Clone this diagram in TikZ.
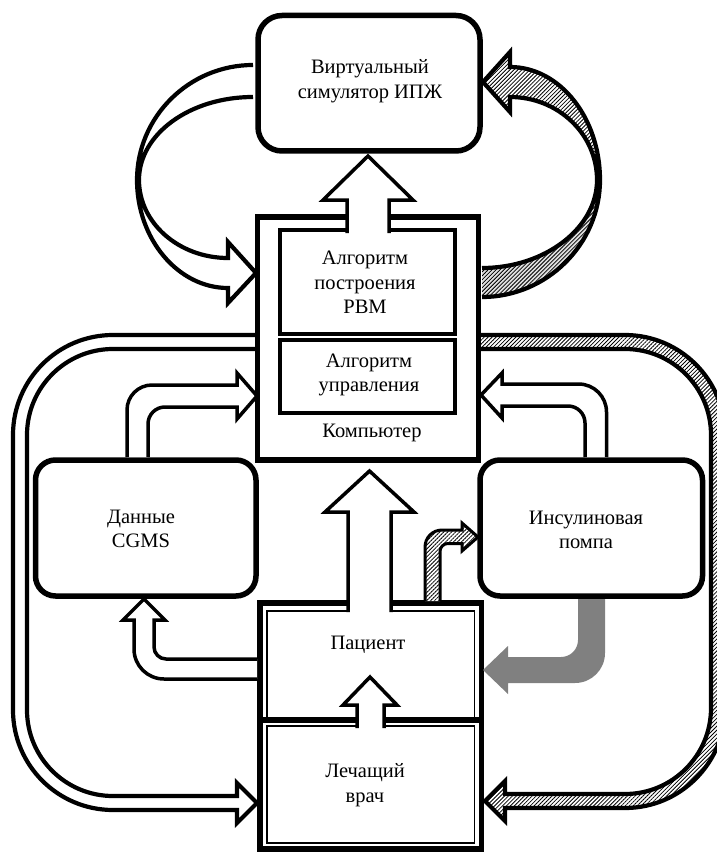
\documentclass[tikz,border=0pt]{standalone}
\usepackage{fontspec}
\setmainfont{Liberation Serif}
\usetikzlibrary{patterns,patterns.meta}
\begin{document}
\begin{tikzpicture}[x=1pt,y=-1pt]
\tikzset{
  box/.style={draw, line width=5.5pt, inner sep=0pt, fill=white},
  inbox/.style={draw, line width=4pt, inner sep=0pt},
  lbl/.style={font=\fontsize{20.5}{24.5}\selectfont, align=center, inner sep=0pt},
  arrowline/.style={line width=3.5pt, line join=miter},
  loopline/.style={line width=4.2pt},
  hatch/.style={pattern={Lines[angle=45,distance=2.8pt,line width=0.8pt]}, pattern color=black},
}
\useasboundingbox[fill=white] (0,0) rectangle (716,853);

% ---- big left loop (white ribbon) ----
\def\LeftLoopPath{(257,335) -- (113,335) .. controls (57.8,335) and (13,379.8) .. (13,435) -- (13,710) .. controls (13,765.2) and (57.8,810) .. (113,810) -- (237,810) -- (237,823) -- (257,803) -- (237,783) -- (237,796) -- (113,796) .. controls (65.5,796) and (27,757.5) .. (27,710) -- (27,435) .. controls (27,387.5) and (65.5,349) .. (113,349) -- (257,349)}
\fill[white] \LeftLoopPath -- cycle;
\draw[loopline, line join=miter] \LeftLoopPath;

% ---- big right loop (hatched ribbon) ----
\def\RightLoopPath{(479,335) -- (625,335) .. controls (680.2,335) and (725,379.8) .. (725,435) -- (725,708) .. controls (725,763.2) and (680.2,808) .. (625,808) -- (505,808) -- (505,821) -- (485,801) -- (505,781) -- (505,794) -- (625,794) .. controls (672.5,794) and (711,755.5) .. (711,708) -- (711,435) .. controls (711,387.5) and (672.5,349) .. (625,349) -- (479,349)}
\fill[hatch] \RightLoopPath -- cycle;
\draw[loopline, line join=miter] \RightLoopPath;

% ---- left twisted ribbon arrow (simulator -> computer) ----
\draw[loopline, line join=miter] (253,65) .. controls (189,65) and (137,117) .. (137,180) .. controls (137,239) and (178,288) .. (228,288) -- (228,303) -- (256,273) -- (228,242) -- (228,258) .. controls (179,258) and (139,223) .. (139,180) .. controls (139,134) and (190,97) .. (253,97);

% ---- right twisted ribbon arrow (computer -> simulator), hatched ----
\fill[hatch] (510,67) .. controls (560,67) and (600,118) .. (600,180) -- (597,180) .. controls (597,134) and (558,97) .. (510,97) -- cycle;
\fill[hatch] (510,52) -- (483,82) -- (510,112) -- cycle;
\fill[gray!25] (600,180) .. controls (600,244) and (547,297) .. (482,297) -- (482,268) .. controls (545,268) and (597,228) .. (597,180) -- cycle;
\fill[hatch] (600,180) .. controls (600,244) and (547,297) .. (482,297) -- (482,268) .. controls (545,268) and (597,228) .. (597,180) -- cycle;
\draw[loopline, line join=miter] (482,297) .. controls (547,297) and (600,244) .. (600,180) .. controls (600,118) and (560,67) .. (510,67) -- (510,52) -- (483,82) -- (510,112) -- (510,97) .. controls (558,97) and (597,134) .. (597,180) .. controls (597,228) and (545,268) .. (482,268);

% ---- boxes ----
\node[box, rounded corners=24pt, minimum width=222pt, minimum height=135.5pt] (sim) at (369,83.25) {};
\node[box, minimum width=221pt, minimum height=243pt] (comp) at (368,338.5) {};
\node[inbox, minimum width=174.5pt, minimum height=104pt] (rvm) at (367.25,282) {};
\node[inbox, minimum width=175pt, minimum height=73pt] (ctrl) at (367.5,376.5) {};
\node[box, rounded corners=20pt, minimum width=220.5pt, minimum height=136pt] (cgms) at (145.75,528) {};
\node[box, rounded corners=20pt, minimum width=222.5pt, minimum height=136pt] (pump) at (591.25,528) {};
\node[box, minimum width=221.5pt, minimum height=246pt] (care) at (370.75,726) {};
\draw[line width=5.5pt] (260,720) -- (481.5,720);
\draw[line width=1.8pt] (267,720) -- (267,611) -- (474.5,611) -- (474.5,720);
\draw[line width=1.8pt] (267,726) rectangle (474.5,843);

% ---- arrow computer -> simulator ----
\fill[white] (347,233) -- (347,200) -- (323,200) -- (368,156) -- (413,200) -- (389,200) -- (389,233) -- cycle;
\draw[arrowline] (347,233) -- (347,200) -- (323,200) -- (368,156) -- (413,200) -- (389,200) -- (389,233);

% ---- big arrow patient -> computer ----
\fill[white] (348,612) -- (348,512) -- (325,512) -- (369.5,471) -- (414,512) -- (391,512) -- (391,612) -- cycle;
\draw[arrowline] (348,612) -- (348,512) -- (325,512) -- (369.5,471) -- (414,512) -- (391,512) -- (391,612);

% ---- arrow doctor -> patient ----
\fill[white] (357,728) -- (357,705) -- (343,705) -- (370,677) -- (397,705) -- (384,705) -- (384,728) -- cycle;
\draw[arrowline] (357,728) -- (357,705) -- (343,705) -- (370,677) -- (397,705) -- (384,705) -- (384,728);

% ---- arrow CGMS -> computer ----
\def\CgmsArrowPath{(127,457) -- (127,410) .. controls (127,396.2) and (138.2,385) .. (152,385) -- (237,385) -- (237,373) -- (257,396) -- (237,419) -- (237,407) -- (165,407) .. controls (155.6,407) and (148,414.6) .. (148,424) -- (148,457)}
\fill[white] \CgmsArrowPath -- cycle;
\draw[arrowline] \CgmsArrowPath;

% ---- arrow pump -> computer ----
\def\PumpArrowPath{(606.5,457) -- (606.5,412) .. controls (606.5,396.5) and (594,384) .. (578.5,384) -- (502,384) -- (502,373) -- (481,395) -- (502,418) -- (502,406) -- (568,406) .. controls (577.4,406) and (585,413.6) .. (585,423) -- (585,457)}
\fill[white] \PumpArrowPath -- cycle;
\draw[arrowline] \PumpArrowPath;

% ---- arrow patient -> CGMS ----
\def\PatCgmsPath{(257,679) -- (164,679) .. controls (147.4,679) and (134,665.6) .. (134,649) -- (134,620) -- (123,620) -- (144,599) -- (165,620) -- (154,620) -- (154,647) .. controls (154,653.6) and (159.4,659) .. (166,659) -- (257,659)}
\fill[white] \PatCgmsPath -- cycle;
\draw[arrowline] \PatCgmsPath;

% ---- hatched arrow patient -> pump ----
\def\PatPumpPath{(425,601) -- (425,547) .. controls (425,537.6) and (432.6,530) .. (442,530) -- (462,530) -- (462,523) -- (478,537) -- (462,551) -- (462,543.5) -- (448,543.5) .. controls (443.6,543.5) and (440,547.1) .. (440,551.5) -- (440,601)}
\fill[white] \PatPumpPath -- cycle;
\fill[hatch] \PatPumpPath -- cycle;
\draw[line width=3pt, line join=miter] \PatPumpPath;

% ---- gray arrow pump -> patient ----
\fill[gray] (578,599) -- (578,640) .. controls (578,649.4) and (570.4,657) .. (561,657) -- (508,657) -- (508,646) -- (483,670) -- (508,694) -- (508,683) -- (575,683) .. controls (591.6,683) and (605,669.6) .. (605,653) -- (605,599) -- cycle;

% ---- texts ----
\node[lbl] (tsim) at (370,81) {Виртуальный\\симулятор ИПЖ};
\node[lbl] (trvm) at (365,282.5) {Алгоритм\\построения\\РВМ};
\node[lbl] (tctrl) at (369,375) {Алгоритм\\управления};
\node[lbl] (tcomp) at (372,433) {Компьютер};
\node[lbl] (tcgms) at (141,529) {Данные\\CGMS};
\node[lbl] (tpump) at (586,530) {Инсулиновая\\помпа};
\node[lbl] (tpat) at (368,645) {Пациент};
\node[lbl] (tdoc) at (365,785) {Лечащий\\врач};
\end{tikzpicture}
\end{document}
